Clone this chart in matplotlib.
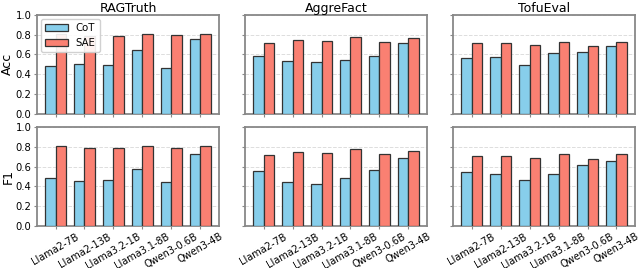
import numpy as np
import matplotlib
matplotlib.use("Agg")
import matplotlib.pyplot as plt

models = ["Llama2-7B", "Llama2-13B", "Llama3.2-1B", "Llama3.1-8B", "Qwen3-0.6B", "Qwen3-4B"]
datasets = ["RAGTruth", "AggreFact", "TofuEval"]
metrics = ["Acc", "F1"]

# CoT / SAE scores per dataset
ragtruth_acc_cot = [0.486, 0.500, 0.493, 0.645, 0.459, 0.757]
ragtruth_acc_sae = [0.808, 0.785, 0.789, 0.810, 0.796, 0.810]
ragtruth_f1_cot = [0.480, 0.450, 0.463, 0.577, 0.443, 0.728]
ragtruth_f1_sae = [0.805, 0.789, 0.789, 0.809, 0.792, 0.809]

aggrefact_acc_cot = [0.578, 0.534, 0.524, 0.544, 0.582, 0.714]
aggrefact_acc_sae = [0.718, 0.745, 0.738, 0.772, 0.721, 0.762]
aggrefact_f1_cot = [0.560, 0.446, 0.423, 0.483, 0.564, 0.691]
aggrefact_f1_sae = [0.721, 0.745, 0.738, 0.779, 0.725, 0.762]

tofueval_acc_cot = [0.561, 0.568, 0.493, 0.612, 0.619, 0.680]
tofueval_acc_sae = [0.714, 0.714, 0.697, 0.724, 0.684, 0.724]
tofueval_f1_cot = [0.550, 0.520, 0.463, 0.520, 0.614, 0.654]
tofueval_f1_sae = [0.711, 0.711, 0.688, 0.725, 0.674, 0.725]

scores = {
    ("RAGTruth", "Acc"): (ragtruth_acc_cot, ragtruth_acc_sae),
    ("RAGTruth", "F1"): (ragtruth_f1_cot, ragtruth_f1_sae),
    ("AggreFact", "Acc"): (aggrefact_acc_cot, aggrefact_acc_sae),
    ("AggreFact", "F1"): (aggrefact_f1_cot, aggrefact_f1_sae),
    ("TofuEval", "Acc"): (tofueval_acc_cot, tofueval_acc_sae),
    ("TofuEval", "F1"): (tofueval_f1_cot, tofueval_f1_sae),
}

fig, axes = plt.subplots(2, 3, figsize=(6.4, 2.68), dpi=100, sharex=True, sharey=True)
fig.subplots_adjust(left=0.058, right=0.992, top=0.945, bottom=0.157, wspace=0.145, hspace=0.135)

x = np.arange(len(models))
w = 0.35

for r, metric in enumerate(metrics):
    for c, name in enumerate(datasets):
        ax = axes[r, c]
        cot, sae = scores[(name, metric)]
        ax.bar(x - w / 2, cot, w, color="#87CEEB", edgecolor="#333333", linewidth=0.9, label="CoT", zorder=3)
        ax.bar(x + w / 2, sae, w, color="#FA8072", edgecolor="#333333", linewidth=0.9, label="SAE", zorder=3)
        ax.set_ylim(0, 1.0)
        ax.set_yticks([0, 0.2, 0.4, 0.6, 0.8, 1.0])
        ax.grid(axis="y", linestyle="--", color="#dddddd", linewidth=0.7, zorder=0)
        for s in ax.spines.values():
            s.set_color("#888888")
            s.set_linewidth(1.3)
        ax.tick_params(labelsize=7.2, length=2.5, color="#888888", pad=1.5)
        if r == 0:
            ax.set_title(name, fontsize=9, pad=2)
        if c == 0:
            ax.set_ylabel(metric, fontsize=9, labelpad=1)
        if r == 1:
            ax.set_xticks(x)
            ax.set_xticklabels(models, rotation=30, ha="center", fontsize=7)

axes[0, 0].legend(loc="upper left", fontsize=7.3, handlelength=2.2, borderaxespad=0.4,
                  framealpha=0.9, edgecolor="#cccccc")

fig.savefig("out.png", dpi=100)
